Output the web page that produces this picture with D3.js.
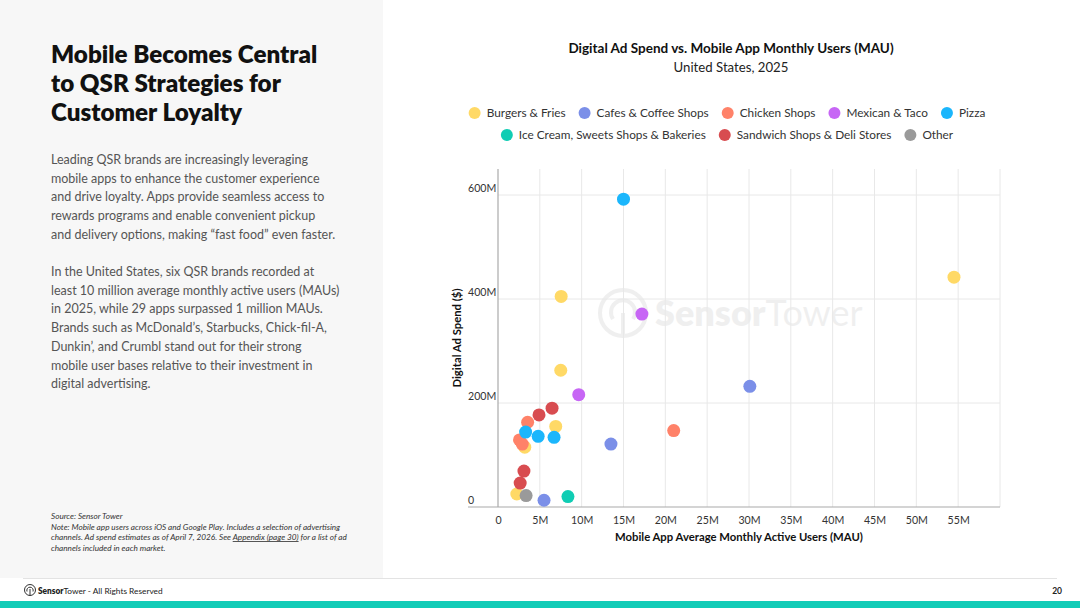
<!DOCTYPE html>
<meta charset="utf-8">
<html>
  <head>
    <title>Digital Ad Spend vs. Mobile App MAU</title>
    <style>
      body { margin: 0; font-family: "Lato", sans-serif; background: #fff; }
      svg { display: block; }
    </style>
  </head>
  <body>
    <div id="chart"></div>
    <script src="https://d3js.org/d3.v7.min.js"></script>
    <script>

      // categories (legend order)
      const categories = ["Burgers & Fries", "Cafes & Coffee Shops", "Chicken Shops", "Mexican & Taco",
                          "Pizza", "Ice Cream, Sweets Shops & Bakeries", "Sandwich Shops & Deli Stores", "Other"];
      const catColors = ["#ffd966", "#7b8fe8", "#ff8269", "#c766f5", "#1bb6fc", "#10cdb4", "#d84c50", "#9a9a9a"];

      // one entry per app: category index, MAU (millions), ad spend (millions $)
      const pointCategory = [0, 0, 0, 0, 0, 0,   1, 1, 1,   2, 2, 2, 2,   3, 3,   4, 4, 4, 4,   5,   6, 6, 6, 6,   7];
      const pointMau      = [54.5, 7.55, 7.5, 6.9, 3.2, 2.25,   30.1, 13.5, 5.5,   21.0, 3.54, 2.57, 2.9,
                             17.2, 9.65,   15.0, 3.3, 4.8, 6.7,   8.36,   6.46, 4.9, 3.1, 2.65,   3.36];
      const pointSpend    = [442, 405, 263, 155, 115, 25,   232, 121, 13,   147, 163, 129, 121,
                             371, 216,   592, 144, 136, 134,   20,   190, 177, 69, 46,   22];

      const xTicks = [0, 5, 10, 15, 20, 25, 30, 35, 40, 45, 50, 55];
      const xGrid = [5, 10, 15, 20, 25, 30, 35, 40, 45, 50, 55, 60];
      const yTicks = [0, 200, 400, 600];

      const bodyPara1 = ["Leading QSR brands are increasingly leveraging",
        "mobile apps to enhance the customer experience",
        "and drive loyalty. Apps provide seamless access to",
        "rewards programs and enable convenient pickup",
        "and delivery options, making \u201cfast food\u201d even faster."];
      const bodyPara2 = ["In the United States, six QSR brands recorded at",
        "least 10 million average monthly active users (MAUs)",
        "in 2025, while 29 apps surpassed 1 million MAUs.",
        "Brands such as McDonald\u2019s, Starbucks, Chick-fil-A,",
        "Dunkin\u2019, and Crumbl stand out for their strong",
        "mobile user bases relative to their investment in",
        "digital advertising."];

      const W = 1080, H = 608;
      const svg = d3.select("#chart").append("svg")
        .attr("width", W).attr("height", H);

      // left panel
      svg.append("rect").attr("x", 0).attr("y", 0).attr("width", 383).attr("height", 578).attr("fill", "#f7f7f7");

      const title = ["Mobile Becomes Central", "to QSR Strategies for", "Customer Loyalty"];
      svg.append("g").selectAll("text").data(title).join("text")
        .attr("x", 51).attr("y", (d, i) => 63 + i * 29)
        .attr("font-size", "24.2px").attr("font-weight", 800).attr("fill", "#111")
        .text(d => d);

      svg.append("g").selectAll("text").data(bodyPara1).join("text")
        .attr("x", 51).attr("y", (d, i) => 164 + i * 18.7)
        .attr("font-size", "12.5px").attr("fill", "#555")
        .text(d => d);
      svg.append("g").selectAll("text").data(bodyPara2).join("text")
        .attr("x", 51).attr("y", (d, i) => 276 + i * 18.7)
        .attr("font-size", "12.5px").attr("fill", "#555")
        .text(d => d);

      // source notes
      const notes = svg.append("g").attr("font-size", "8.2px").attr("font-style", "italic").attr("fill", "#333");
      notes.append("text").attr("x", 51).attr("y", 519).text("Source: Sensor Tower");
      notes.append("text").attr("x", 51).attr("y", 529.5).text("Note: Mobile app users across iOS and Google Play. Includes a selection of advertising");
      const n3 = notes.append("text").attr("x", 51).attr("y", 540);
      n3.append("tspan").text("channels. Ad spend estimates as of April 7, 2026. See ");
      n3.append("tspan").attr("text-decoration", "underline").text("Appendix (page 30)");
      n3.append("tspan").text(" for a list of ad");
      notes.append("text").attr("x", 51).attr("y", 550.5).text("channels included in each market.");

      // footer
      svg.append("line").attr("x1", 23).attr("x2", 1057).attr("y1", 578.5).attr("y2", 578.5)
        .attr("stroke", "#e3e3e3");
      svg.append("rect").attr("x", 0).attr("y", 601).attr("width", W).attr("height", 7).attr("fill", "#12ccb7");
      const logo = svg.append("g").attr("transform", "translate(30,590)").attr("fill", "none").attr("stroke", "#333");
      logo.append("circle").attr("r", 5.5).attr("stroke-width", 1);
      logo.append("path").attr("d", "M-3,1.5 A3.2,3.2 0 1 1 3,1.5").attr("stroke-width", 1);
      logo.append("line").attr("x1", 0).attr("x2", 0).attr("y1", -1).attr("y2", 5.5).attr("stroke-width", 1);
      const ft = svg.append("text").attr("x", 38).attr("y", 593.5).attr("font-size", "8.3px").attr("fill", "#222");
      ft.append("tspan").attr("font-weight", 800).text("Sensor");
      ft.append("tspan").text("Tower - All Rights Reserved");
      svg.append("text").attr("x", 1062).attr("y", 593.5).attr("text-anchor", "end")
        .attr("font-size", "8.5px").attr("font-weight", 700).attr("fill", "#222").text("20");

      // chart titles
      svg.append("text").attr("x", 731).attr("y", 53).attr("text-anchor", "middle")
        .attr("font-size", "13.5px").attr("font-weight", 700).attr("fill", "#111")
        .text("Digital Ad Spend vs. Mobile App Monthly Users (MAU)");
      svg.append("text").attr("x", 731).attr("y", 72).attr("text-anchor", "middle")
        .attr("font-size", "13.2px").attr("fill", "#222")
        .text("United States, 2025");

      // legend
      const legendRows = [[0, 1, 2, 3, 4], [5, 6, 7]];
      const legendY = [113, 135];
      legendRows.forEach((row, r) => {
        const g = svg.append("g");
        let x = 0;
        row.forEach(ci => {
          g.append("circle").attr("cx", x + 6).attr("cy", legendY[r]).attr("r", 6).attr("fill", catColors[ci]);
          const t = g.append("text").attr("x", x + 18).attr("y", legendY[r] + 4)
            .attr("font-size", "11.8px").attr("fill", "#333").text(categories[ci]);
          x += 18 + t.node().getComputedTextLength() + 13;
        });
        const total = x - 13;
        g.attr("transform", `translate(${727 - total / 2},0)`);
      });

      // scales
      const x = d3.scaleLinear().domain([0, 60]).range([498, 1000]);
      const y = d3.scaleLinear().domain([0, 650]).range([507, 169]);

      // watermark
      const wm = svg.append("g").attr("opacity", 0.06).attr("fill", "#000");
      const wmIcon = wm.append("g").attr("transform", "translate(623,313)").attr("fill", "none").attr("stroke", "#000");
      wmIcon.append("circle").attr("r", 23).attr("stroke-width", 4);
      wmIcon.append("path").attr("d", "M-10,6 A12,12 0 1 1 10,6").attr("stroke-width", 4);
      wmIcon.append("line").attr("x1", 0).attr("x2", 0).attr("y1", 0).attr("y2", 23).attr("stroke-width", 4);
      const wmt = wm.append("text").attr("x", 655).attr("y", 326).attr("font-size", "36px");
      wmt.append("tspan").attr("font-weight", 800).text("Sensor");
      wmt.append("tspan").attr("font-weight", 400).text("Tower");

      // grid
      svg.append("g").selectAll("line").data(xGrid).join("line")
        .attr("x1", d => x(d)).attr("x2", d => x(d)).attr("y1", y(650)).attr("y2", y(0))
        .attr("stroke", "#e8e8e8");
      svg.append("g").selectAll("line").data(yTicks.slice(1)).join("line")
        .attr("x1", x(0)).attr("x2", x(60)).attr("y1", d => y(d)).attr("y2", d => y(d))
        .attr("stroke", "#e8e8e8");

      // axes
      const xAxis = svg.append("g").attr("transform", `translate(0,${y(0)})`)
        .call(d3.axisBottom(x).tickValues(xTicks).tickSize(0).tickPadding(9)
          .tickFormat(d => d === 0 ? "0" : d + "M"));
      xAxis.select(".domain").remove();
      xAxis.selectAll("text").attr("font-size", "10.6px").attr("fill", "#333").attr("font-family", "Lato");
      svg.append("line").attr("x1", 468).attr("x2", 1000).attr("y1", y(0)).attr("y2", y(0))
        .attr("stroke", "#aaa").attr("stroke-width", 1.2);
      svg.append("line").attr("x1", x(0)).attr("x2", x(0)).attr("y1", y(650)).attr("y2", y(0))
        .attr("stroke", "#aaa").attr("stroke-width", 1.2);

      svg.append("g").selectAll("text").data(yTicks).join("text")
        .attr("x", 468).attr("y", d => y(d) - 3)
        .attr("font-size", "10.6px").attr("fill", "#333")
        .text(d => d === 0 ? "0" : d + "M");

      svg.append("text").attr("x", 739).attr("y", 541).attr("text-anchor", "middle")
        .attr("font-size", "11.3px").attr("font-weight", 700).attr("fill", "#111")
        .text("Mobile App Average Monthly Active Users (MAU)");
      svg.append("text").attr("transform", `translate(461,${(y(0) + y(650)) / 2}) rotate(-90)`)
        .attr("text-anchor", "middle")
        .attr("font-size", "11.3px").attr("font-weight", 700).attr("fill", "#111")
        .text("Digital Ad Spend ($)");

      // points
      svg.append("g").selectAll("circle").data(d3.range(pointMau.length)).join("circle")
        .attr("cx", i => x(pointMau[i]))
        .attr("cy", i => y(pointSpend[i]))
        .attr("r", 6.5)
        .attr("fill", i => catColors[pointCategory[i]]);

    </script>
  </body>
</html>
